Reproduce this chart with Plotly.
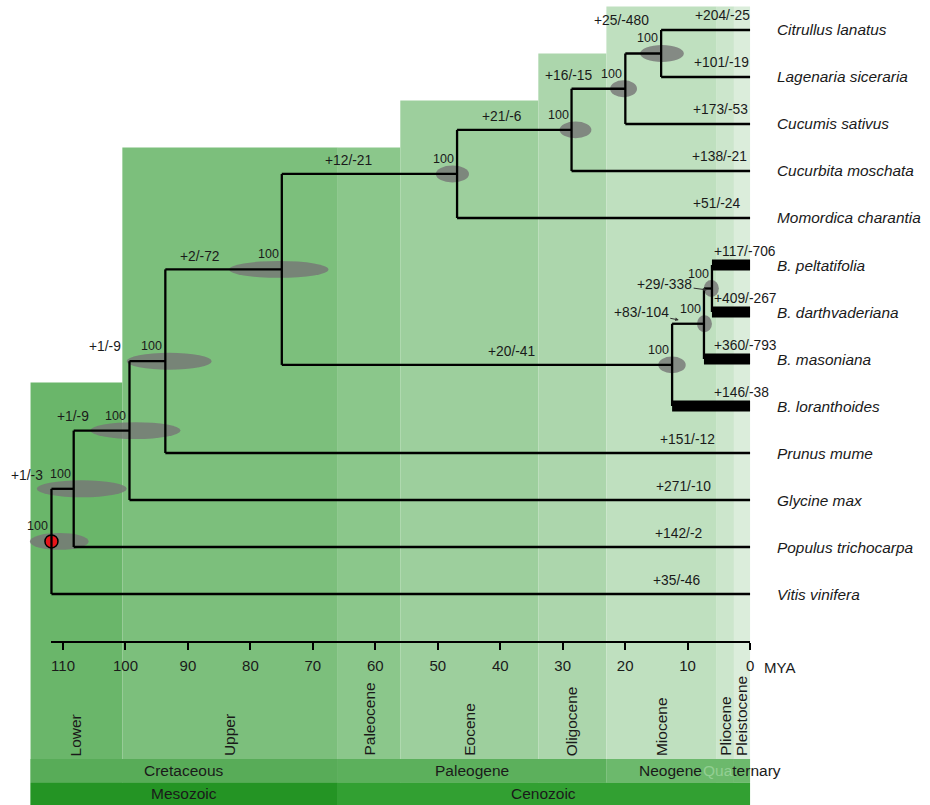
import plotly.graph_objects as go

# ---------------- data ----------------
tip_names = ["Citrullus lanatus", "Lagenaria siceraria", "Cucumis sativus",
             "Cucurbita moschata", "Momordica charantia", "B. peltatifolia",
             "B. darthvaderiana", "B. masoniana", "B. loranthoides",
             "Prunus mume", "Glycine max", "Populus trichocarpa", "Vitis vinifera"]
tip_changes = ["+204/-25", "+101/-19", "+173/-53", "+138/-21", "+51/-24",
               "+117/-706", "+409/-267", "+360/-793", "+146/-38",
               "+151/-12", "+271/-10", "+142/-2", "+35/-46"]
tip_thick = [False, False, False, False, False, True, True, True, True,
             False, False, False, False]

node_ids = ["H", "G", "F", "E", "K", "J", "I", "D", "C", "B", "A", "root"]
node_children = [("t0", "t1"), ("H", "t2"), ("G", "t3"), ("F", "t4"),
                 ("t5", "t6"), ("K", "t7"), ("J", "t8"), ("E", "I"),
                 ("D", "t9"), ("C", "t10"), ("B", "t11"), ("A", "t12")]
node_ages = [14.24, 19.97, 28.58, 46.91, 6.10, 7.38, 12.48, 74.97,
             93.62, 99.36, 108.29, 111.85]
node_hpd_old = [17.6, 22.4, 30.5, 50.3, 7.4, 8.5, 14.7, 83.4, 99.8, 105.6, 114.2, 115.3]
node_hpd_young = [10.6, 18.1, 25.4, 45.0, 5.0, 6.1, 10.3, 67.5, 86.2, 91.2, 99.8, 105.9]
node_support = [100, 100, 100, 100, 100, 100, 100, 100, 100, 100, 100, 100]
node_changes = ["+25/-480", "+16/-15", "+21/-6", "+12/-21", "+29/-338",
                "+83/-104", "+20/-41", "+2/-72", "+1/-9", "+1/-9", "+1/-3", ""]

epoch_names = ["Lower", "Upper", "Paleocene", "Eocene", "Oligocene",
               "Miocene", "Pliocene", "Pleistocene"]
epoch_start = [115.2, 100.5, 66.0, 56.0, 33.9, 23.0, 5.333, 2.58]
epoch_end = [100.5, 66.0, 56.0, 33.9, 23.0, 5.333, 2.58, 0.0]
epoch_top_tip = [7.5, 2.5, 2.5, 1.5, 0.5, -0.5, -0.5, -0.5]

period_names = ["Cretaceous", "Paleogene", "Neogene", "Quaternary"]
period_start = [115.2, 66.0, 23.0, 2.58]
period_end = [66.0, 23.0, 2.58, 0.0]

era_names = ["Mesozoic", "Cenozoic"]
era_start = [115.2, 66.0]
era_end = [66.0, 0.0]

axis_ticks = [110, 100, 90, 80, 70, 60, 50, 40, 30, 20, 10, 0]

# ---------------- layout / style settings ----------------
epoch_colors = ["#6ab66a", "#7cbf7c", "#8bc78b", "#9dcf9d", "#acd6ac",
                "#bfe0bf", "#cce6cc", "#dbeddb"]
period_colors = ["#58ac58", "#5cb05c", "#6cb96c", "#6cb96c"]
era_colors = ["#249424", "#32a032"]

# label positions for branch changes (MYA, tip-index units)
change_pos = [(20.6, -0.2), (29.06, 0.96), (39.74, 1.83), (64.29, 2.78),
              (13.68, 5.41), (17.42, 6.01), (38.15, 6.83), (88.04, 4.81),
              (103.35, 6.74), (108.45, 8.23), (115.83, 9.47), None]
arrow_tip = {"K": (6.90, 5.53), "J": (11.41, 6.17)}
tip_change_x = [4.38, 4.62, 4.78, 4.83, 5.31, 6.11, 6.11, 6.11, 6.11,
                10.01, 10.73, 11.45, 11.76]

X_LEFT, X_RIGHT = 120.09, -28.17
Y_TOP, Y_BOT = -0.638, 16.489
Y_EPOCH_BOT = 15.51
Y_PERIOD_BOT = 16.015
AXIS_POS = 1 - 641.7 / 805

TXT = "#1a1a1a"
CHG_SIZE = 13.8

# ---------------- tree geometry ----------------
ypos = {f"t{i}": float(i) for i in range(len(tip_names))}
age = {f"t{i}": 0.0 for i in range(len(tip_names))}
for nid, ch, a in zip(node_ids, node_children, node_ages):
    ypos[nid] = (ypos[ch[0]] + ypos[ch[1]]) / 2
    age[nid] = a
parent = {}
for nid, ch in zip(node_ids, node_children):
    for c in ch:
        parent[c] = nid

lx, ly = [], []
tx, ty = [], []
for nid, ch in zip(node_ids, node_children):
    lx += [age[nid], age[nid], None]
    ly += [ypos[ch[0]], ypos[ch[1]], None]
for c, p in parent.items():
    if c.startswith("t") and tip_thick[int(c[1:])]:
        tx += [age[p], age[c], None]
        ty += [ypos[c], ypos[c], None]
    else:
        lx += [age[p], age[c], None]
        ly += [ypos[c], ypos[c], None]

fig = go.Figure()

shapes = []
for s, e, t, col in zip(epoch_start, epoch_end, epoch_top_tip, epoch_colors):
    shapes.append(dict(type="rect", xref="x", yref="y", x0=s, x1=e, y0=t, y1=Y_BOT,
                       fillcolor=col, line=dict(width=0), layer="below"))
for s, e, col in zip(period_start, period_end, period_colors):
    shapes.append(dict(type="rect", xref="x", yref="y", x0=s, x1=e,
                       y0=Y_EPOCH_BOT, y1=Y_PERIOD_BOT,
                       fillcolor=col, line=dict(width=0), layer="below"))
for s, e, col in zip(era_start, era_end, era_colors):
    shapes.append(dict(type="rect", xref="x", yref="y", x0=s, x1=e,
                       y0=Y_PERIOD_BOT, y1=Y_BOT,
                       fillcolor=col, line=dict(width=0), layer="below"))
for nid, o, yg in zip(node_ids, node_hpd_old, node_hpd_young):
    shapes.append(dict(type="circle", xref="x", yref="y", x0=o, x1=yg,
                       y0=ypos[nid] - 0.18, y1=ypos[nid] + 0.18,
                       fillcolor="rgba(118,118,118,0.82)", line=dict(width=0),
                       layer="below"))

# root marker
fig.add_trace(go.Scatter(x=[age["root"]], y=[ypos["root"]], mode="markers",
                         marker=dict(size=13, color="#e8141a",
                                     line=dict(color="black", width=1.5)),
                         hoverinfo="skip", showlegend=False))
fig.add_trace(go.Scatter(x=lx, y=ly, mode="lines",
                         line=dict(color="black", width=2.3),
                         hoverinfo="skip", showlegend=False))
fig.add_trace(go.Scatter(x=tx, y=ty, mode="lines",
                         line=dict(color="black", width=11),
                         hoverinfo="skip", showlegend=False))
# dummy trace for the time axis
fig.add_trace(go.Scatter(x=[0], y=[0], xaxis="x2", yaxis="y", mode="markers",
                         marker=dict(opacity=0), hoverinfo="skip", showlegend=False))

ann = []
# tip names
for i, n in enumerate(tip_names):
    ann.append(dict(x=0, y=i, xref="x", yref="y", text=f"<i>{n}</i>",
                    xanchor="left", yanchor="middle", xshift=25, showarrow=False,
                    font=dict(size=15.4, color=TXT)))
# tip changes
for i, (c, xx) in enumerate(zip(tip_changes, tip_change_x)):
    ann.append(dict(x=xx, y=i, xref="x", yref="y", text=c,
                    xanchor="left" if tip_thick[i] else "center",
                    yanchor="middle", yshift=14, showarrow=False,
                    font=dict(size=CHG_SIZE, color=TXT)))
# support values
for nid, s in zip(node_ids, node_support):
    ann.append(dict(x=age[nid], y=ypos[nid], xref="x", yref="y", text=str(s),
                    xanchor="right", yanchor="bottom", xshift=-1, yshift=6,
                    showarrow=False, font=dict(size=12.5, color=TXT)))
# branch changes
for nid, c, pos in zip(node_ids, node_changes, change_pos):
    if not c:
        continue
    if nid in arrow_tip:
        ax_, ay_ = arrow_tip[nid]
        ann.append(dict(x=ax_, y=ay_, xref="x", yref="y", text=c,
                        axref="x", ayref="y", ax=pos[0], ay=pos[1],
                        showarrow=True, arrowhead=2, arrowsize=0.7, arrowwidth=1,
                        arrowcolor="#333", standoff=0,
                        font=dict(size=CHG_SIZE, color=TXT)))
    else:
        ann.append(dict(x=pos[0], y=pos[1], xref="x", yref="y", text=c,
                        xanchor="center", yanchor="middle", showarrow=False,
                        font=dict(size=CHG_SIZE, color=TXT)))
# epoch labels
for n, s, e in zip(epoch_names, epoch_start, epoch_end):
    ann.append(dict(x=(s + e) / 2, y=Y_EPOCH_BOT, xref="x", yref="y", text=n,
                    textangle=-90, xanchor="center", yanchor="bottom", yshift=1,
                    showarrow=False, font=dict(size=15.5, color=TXT)))
# period labels
for n, s, e in zip(period_names, period_start, period_end):
    txt = n
    if n == "Quaternary":
        txt = "<span style='color:#93cf93'>Qua</span>ternary"
    ann.append(dict(x=(s + e) / 2, y=(Y_EPOCH_BOT + Y_PERIOD_BOT) / 2, xref="x", yref="y",
                    text=txt, xanchor="center", yanchor="middle", showarrow=False,
                    font=dict(size=15.5, color=TXT)))
for n, s, e in zip(era_names, era_start, era_end):
    ann.append(dict(x=(s + e) / 2, y=(Y_PERIOD_BOT + Y_BOT) / 2, xref="x", yref="y",
                    text=n, xanchor="center", yanchor="middle", showarrow=False,
                    font=dict(size=15.5, color=TXT)))
# MYA unit
ann.append(dict(x=0, y=(805 - 667) / 805, xref="x", yref="paper", yanchor="middle",
                xanchor="left", xshift=12, text="MYA", showarrow=False,
                font=dict(size=15, color=TXT)))

ax0 = age["root"]
fig.update_layout(
    width=930, height=805,
    margin=dict(l=0, r=0, t=0, b=0),
    paper_bgcolor="white", plot_bgcolor="rgba(0,0,0,0)",
    font=dict(family="Liberation Sans, Arial, sans-serif", color=TXT),
    showlegend=False,
    shapes=shapes, annotations=ann,
    xaxis=dict(range=[X_LEFT, X_RIGHT], visible=False, domain=[0, 1]),
    yaxis=dict(range=[Y_BOT, Y_TOP], visible=False, domain=[0, 1]),
    xaxis2=dict(range=[ax0, 0], domain=[51.7 / 930, 753.3 / 930],
                anchor="free", position=AXIS_POS, side="bottom",
                showline=True, linecolor="black", linewidth=2.3,
                ticks="outside", ticklen=7, tickwidth=2, tickcolor="black",
                tickvals=axis_ticks, ticktext=[str(t) for t in axis_ticks],
                tickfont=dict(size=15, color=TXT), ticklabelstandoff=3,
                showgrid=False, zeroline=False, fixedrange=True),
)

fig.write_html("out.html",
               config={"displayModeBar": False, "staticPlot": True},
               post_script="document.body.style.margin='0px';"
                           "document.body.style.overflow='hidden';")
